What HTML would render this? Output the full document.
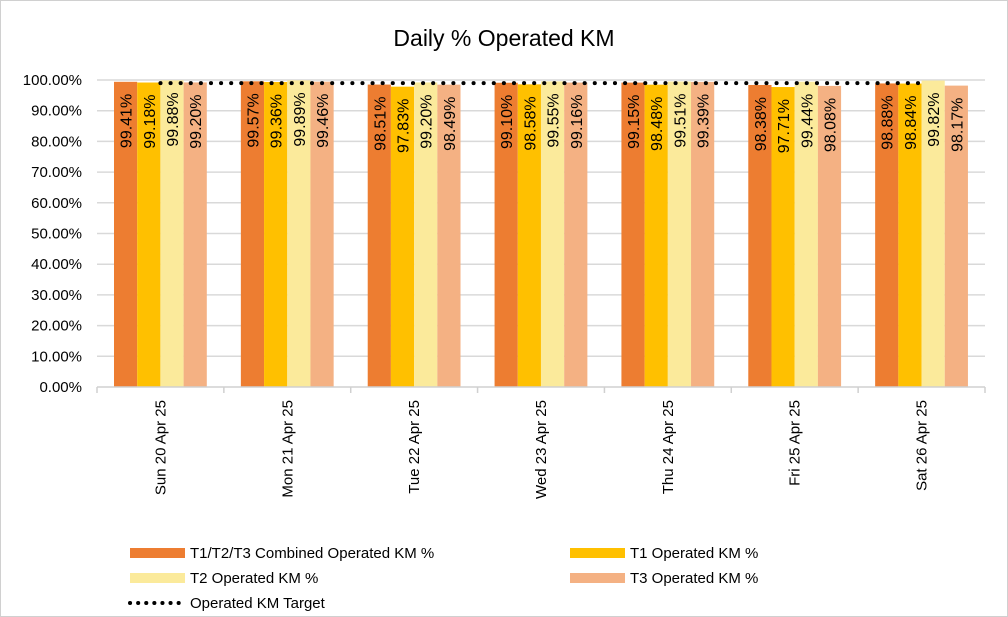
<!DOCTYPE html>
<html><head><meta charset="utf-8"><style>
body{margin:0;background:#fff;}
svg{display:block;font-family:"Liberation Sans",Calibri,sans-serif;}
</style></head><body>
<svg id="chart" width="1008" height="617">
<rect x="0.5" y="0.5" width="1007" height="616" fill="#fff" stroke="#d0d0d0"/>
<text x="504" y="46" font-size="23" text-anchor="middle" fill="#000">Daily % Operated KM</text>
<g id="grid"></g><g id="bars"></g><g id="axes"></g><g id="target"></g>
<g font-size="15" fill="#000">
<rect x="130" y="548" width="55" height="10" fill="#ED7D31"/>
<text x="190" y="558">T1/T2/T3 Combined Operated KM %</text>
<rect x="570" y="548" width="55" height="10" fill="#FFC000"/>
<text x="630" y="558">T1 Operated KM %</text>
<rect x="130" y="573" width="55" height="10" fill="#FBEA9B"/>
<text x="190" y="583">T2 Operated KM %</text>
<rect x="570" y="573" width="55" height="10" fill="#F4B183"/>
<text x="630" y="583">T3 Operated KM %</text>
<line x1="130" y1="603" x2="185" y2="603" stroke="#000" stroke-width="4" stroke-dasharray="0.1 8" stroke-linecap="round"/>
<text x="190" y="608">Operated KM Target</text>
</g>
</svg>
<script>
const categories=["Sun 20 Apr 25","Mon 21 Apr 25","Tue 22 Apr 25","Wed 23 Apr 25","Thu 24 Apr 25","Fri 25 Apr 25","Sat 26 Apr 25"];
const combined=[99.41,99.57,98.51,99.10,99.15,98.38,98.88];
const t1=[99.18,99.36,97.83,98.58,98.48,97.71,98.84];
const t2=[99.88,99.89,99.20,99.55,99.51,99.44,99.82];
const t3=[99.20,99.46,98.49,99.16,99.39,98.08,98.17];
const target=[99,99,99,99,99,99,99];
const yTicks=[0,10,20,30,40,50,60,70,80,90,100];
const NS="http://www.w3.org/2000/svg";
const X0=97,X1=985,Y0=387,Y1=80;
const catW=(X1-X0)/categories.length;
const y=v=>Y0-(v/100)*(Y0-Y1);
const cx=i=>X0+catW*i+catW/2;
function mk(t,a,p){const e=document.createElementNS(NS,t);for(const k in a)e.setAttribute(k,a[k]);p.appendChild(e);return e;}
const grid=document.getElementById('grid'),axes=document.getElementById('axes'),bars=document.getElementById('bars'),tg=document.getElementById('target');
yTicks.forEach(v=>{
  if(v>0){const g=mk('line',{x1:X0,x2:X1,y1:y(v),y2:y(v),stroke:'#d9d9d9','stroke-width':1.5},grid);
  
  }
  const t=mk('text',{x:82,y:y(v)+5,'font-size':15,'text-anchor':'end'},axes);
  t.textContent=v.toFixed(2)+'%';
  
  
});
const ax=mk('line',{x1:X0,x2:X1,y1:Y0,y2:Y0,stroke:'#d0d0d0','stroke-width':1.5},axes);


for(let i=0;i<=categories.length;i++){
  const tk=mk('line',{x1:X0+catW*i,x2:X0+catW*i,y1:Y0,y2:Y0+6,stroke:'#d0d0d0','stroke-width':1.5},axes);
  
  
}
const series=[[combined,'#ED7D31','combined'],[t1,'#FFC000','t1'],[t2,'#FBEA9B','t2'],[t3,'#F4B183','t3']];
const bw=23.2,off=17;
categories.forEach((c,i)=>{
  series.forEach((s,j)=>{
    const v=s[0][i],bx=X0+catW*i+off+bw*j;
    const r=mk('rect',{x:bx,y:y(v),width:bw,height:Y0-y(v),fill:s[1]},bars);
    
    
    const lx=bx+bw/2+6,ly=y(v)+12;
    const t=mk('text',{x:lx,y:ly,'font-size':16,'text-anchor':'end',transform:`rotate(-90 ${lx} ${ly})`},bars);
    t.textContent=v.toFixed(2)+'%';
    
    
  });
  const lx=cx(i)+5,ly=400;
  const t=mk('text',{x:lx,y:ly,'font-size':15,'text-anchor':'end',transform:`rotate(-90 ${lx} ${ly})`},axes);
  t.textContent=c;
  
  
});
const pts=target.map((v,i)=>cx(i)+','+y(v)).join(' ');
const pl=mk('polyline',{points:pts,fill:'none',stroke:'#000','stroke-width':4,'stroke-dasharray':'0.1 10','stroke-linecap':'round'},tg);


</script>
</body></html>
